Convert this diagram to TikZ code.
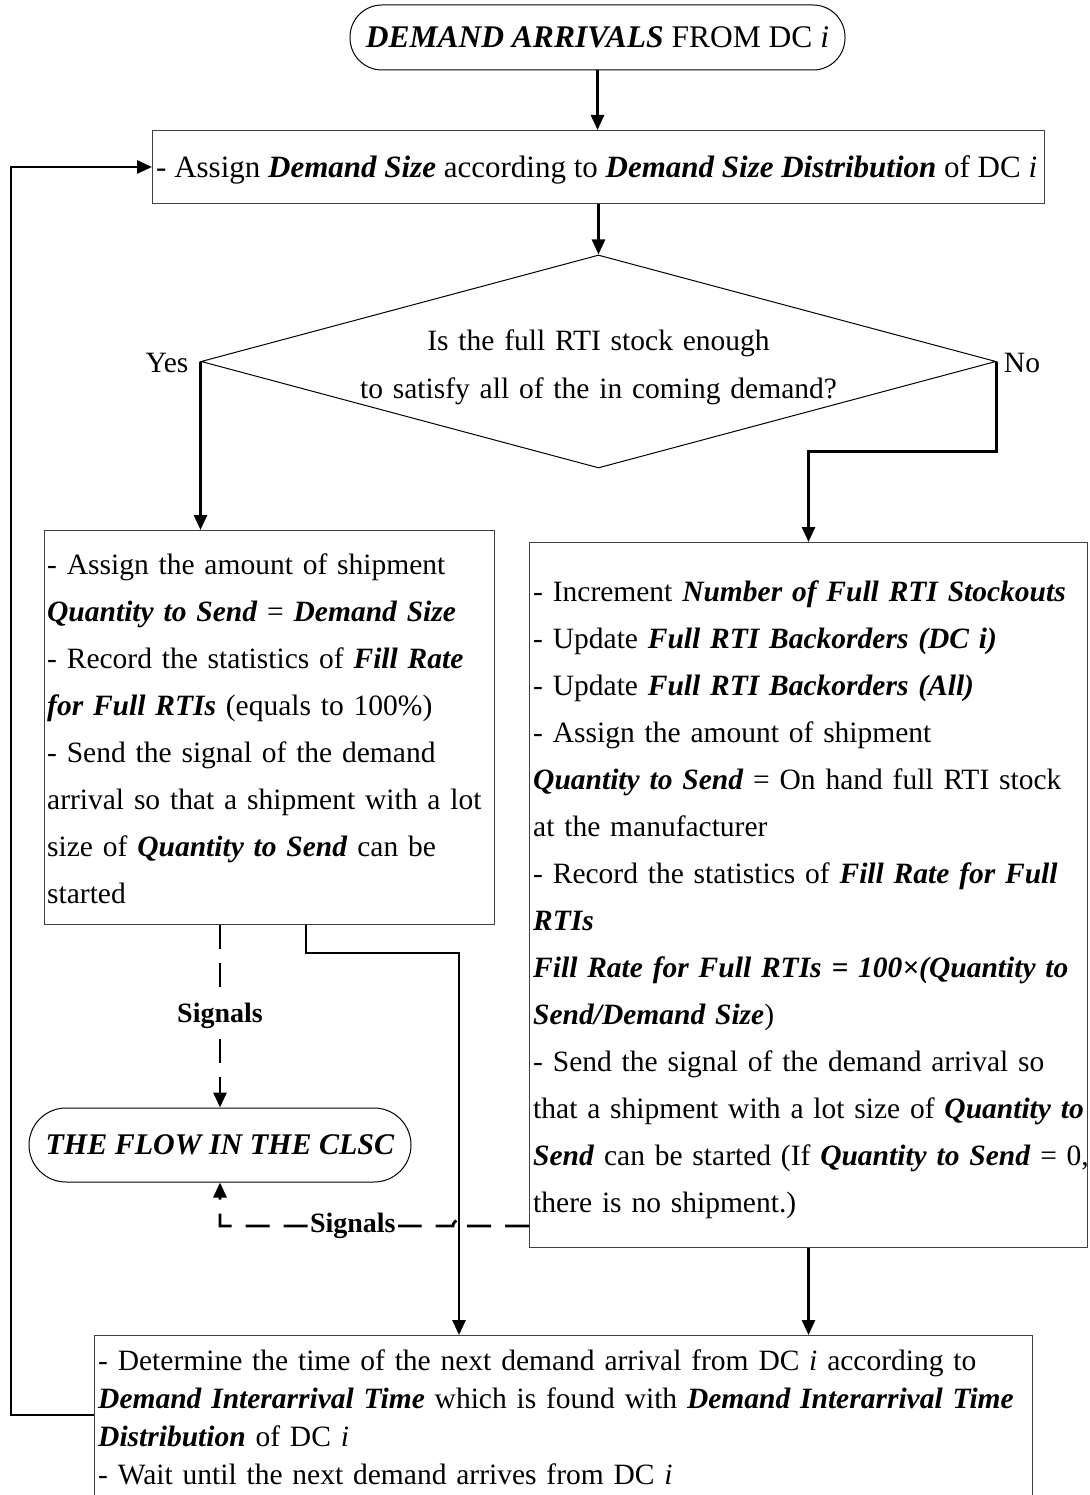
\documentclass[tikz,border=0pt]{standalone}
\usepackage{fontspec}
\setmainfont{Liberation Serif}
\usetikzlibrary{arrows.meta,shapes.geometric}
\newcommand{\bi}[1]{\textbf{\textit{#1}}}
\begin{document}
\begin{tikzpicture}[x=1pt,y=-1pt,
  every node/.style={font=\fontsize{29.5}{47}\selectfont},
  frame/.style={draw=black!75, line width=1pt, rectangle, inner sep=0pt, anchor=north west},
  body/.style={anchor=north west, inner sep=0pt, align=left, text width=#1},
  term/.style={draw=black, line width=1pt, rectangle, rounded corners=#1, inner sep=0pt},
  flow/.style={line width=2.8pt, -{Triangle[length=15pt,width=13pt]}},
  sig/.style={line width=2.8pt, dash pattern=on 24pt off 14pt, -{Triangle[length=15pt,width=13pt]}},
  siglabel/.style={fill=white, inner sep=2pt, font=\fontsize{28}{32}\selectfont\bfseries},
]
\useasboundingbox (0,0) rectangle (1089,1495);

% start terminator
\node[term=32pt, minimum width=495pt, minimum height=65pt, font=\fontsize{31.5}{38}\selectfont] (start) at (597.5,37.5)
  {\bi{DEMAND ARRIVALS} FROM DC \textit{i}};

% demand size assignment
\node[frame, minimum width=892pt, minimum height=73pt] (assign) at (152,130) {};
\node[anchor=west, inner sep=0pt, font=\fontsize{31}{38}\selectfont] (assigntxt) at (156,170)
  {- Assign \bi{Demand Size} according to \bi{Demand Size Distribution} of DC \textit{i}};

% stock decision
\node[draw=black, line width=1pt, diamond, minimum width=795pt, minimum height=213pt, inner sep=0pt] (dec) at (598.5,361.5) {};
\node[align=center, text width=700pt, font=\fontsize{29.5}{48}\selectfont] (ask) at (598.5,367)
  {Is the full RTI stock enough\\to satisfy all of the in coming demand?};
\node[anchor=base] (yes) at (167,372) {Yes};
\node[anchor=base] (no) at (1022,372) {No};

% enough stock branch
\node[frame, minimum width=450pt, minimum height=394pt] (lbox) at (44,530) {};
\node[body=480pt] (ltext) at (47,541) {\strut - Assign the amount of shipment\\
\bi{Quantity to Send} = \bi{Demand Size}\\
- Record the statistics of \bi{Fill Rate}\\
\bi{for Full RTIs} (equals to 100\%)\\
- Send the signal of the demand\\
arrival so that a shipment with a lot\\
size of \bi{Quantity to Send} can be\\
started};

% stockout branch
\node[frame, minimum width=558pt, minimum height=705pt] (rbox) at (529,542) {};
\node[body=600pt] (rtext) at (533,568) {\strut - Increment \bi{Number of Full RTI Stockouts}\\
- Update \bi{Full RTI Backorders (DC i)}\\
- Update \bi{Full RTI Backorders (All)}\\
- Assign the amount of shipment\\
\bi{Quantity to Send} = On hand full RTI stock\\
at the manufacturer\\
- Record the statistics of \bi{Fill Rate for Full}\\
\bi{RTIs}\\
\bi{Fill Rate for Full RTIs = 100×(Quantity to}\\
\bi{Send/Demand Size})\\
- Send the signal of the demand arrival so\\
that a shipment with a lot size of \bi{Quantity to}\\
\bi{Send} can be started (If \bi{Quantity to Send} = 0,\\
there is no shipment.)};

% closed-loop supply chain terminator
\node[term=37pt, minimum width=382pt, minimum height=74pt, font=\fontsize{30}{38}\selectfont] (clsc) at (220,1145)
  {\bi{THE FLOW IN THE CLSC}};

% next arrival scheduling
\node[frame, minimum width=938pt, minimum height=160pt] (next) at (94,1335) {};
\node[body=1000pt, font=\fontsize{29.5}{38}\selectfont] (ntext) at (98,1344)
  {\strut - Determine the time of the next demand arrival from DC \textit{i} according to\\
\bi{Demand Interarrival Time} which is found with \bi{Demand Interarrival Time}\\
\bi{Distribution} of DC \textit{i}\\
- Wait until the next demand arrives from DC \textit{i}};

% connectors
\draw[flow] (start.south) -- (start.south |- assign.north);
\draw[flow] (assign.south) -- (assign.south |- dec.north);
\draw[flow] (dec.west) -- (dec.west |- lbox.north);
\draw[flow] (dec.east) -- ++(0,90) -| (rbox.north);
\draw[flow] ([xshift=262pt]lbox.south west) -- ++(0,28) -| ([xshift=365pt]next.north west);
\draw[flow] (rbox.south) -- (rbox.south |- next.north);
\draw[flow] ([yshift=-80pt]next.north west) -- ++(-83,0) |- (assign.west);

% signal lines
\draw[sig] ([xshift=176pt]lbox.south west) -- node[siglabel] (sig1) {Signals} (clsc.north);
\draw[sig] ([yshift=22pt]rbox.south west) -- ++(-64,0)
  arc[start angle=0, end angle=180, radius=6pt]
  -| node[siglabel, pos=0.215] (sig2) {Signals} (clsc.south);
\end{tikzpicture}
\end{document}
